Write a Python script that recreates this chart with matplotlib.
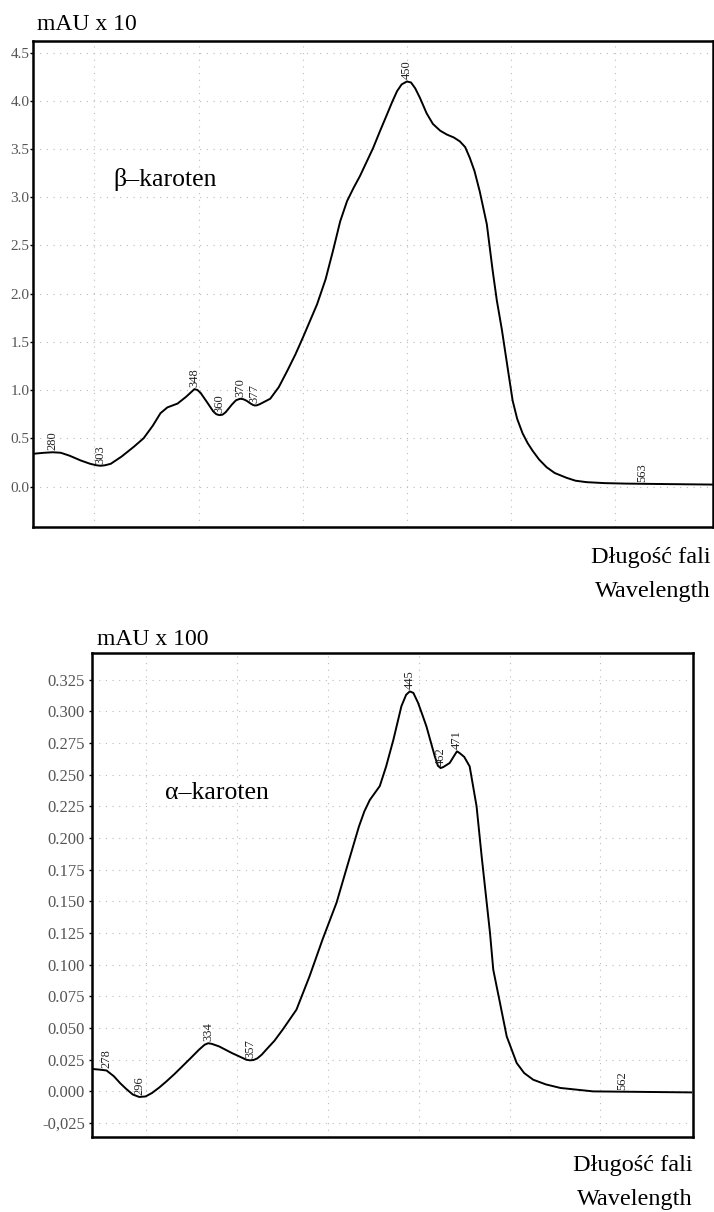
import numpy as np
import matplotlib
matplotlib.use("Agg")
import matplotlib.pyplot as plt

plt.rcParams['font.family'] = ['Liberation Serif', 'DejaVu Serif']

# beta-carotene spectrum (wavelength nm, absorbance mAU x 10)
beta_nm = [270.9, 276, 280, 283.8, 288, 293.4, 298, 301, 303, 305, 307.8, 313, 318.8,
           323.6, 328, 331.7, 335, 339.9, 344, 346.5, 348, 349.5, 351, 354.2, 357,
           358.5, 360, 361.5, 363, 366, 368, 370, 371.5, 373, 375, 376.2, 377, 378,
           379.5, 384.4, 388.5, 392.6, 396.5, 400.2, 406.9, 411, 414.6, 418, 421.3,
           424.5, 427.5, 433.8, 437, 440.5, 443, 445.3, 447.5, 450, 452, 454, 456.3,
           459.5, 462.5, 466, 469.2, 472.5, 475.4, 478, 480.2, 482.5, 485, 488.4,
           491.2, 493.2, 495.6, 498.4, 500.8, 503, 505.6, 508, 510.4, 513.5, 517.1,
           521, 526.7, 531, 536.3, 545, 555.4, 575, 597]
beta_val = [0.34, 0.35, 0.355, 0.35, 0.32, 0.27, 0.235, 0.22, 0.215, 0.22, 0.235, 0.31,
            0.41, 0.50, 0.63, 0.76, 0.82, 0.86, 0.93, 0.98, 1.01, 1.0, 0.97, 0.87,
            0.78, 0.75, 0.74, 0.745, 0.77, 0.85, 0.895, 0.91, 0.905, 0.89, 0.86,
            0.845, 0.84, 0.842, 0.855, 0.91, 1.03, 1.20, 1.37, 1.55, 1.89, 2.15,
            2.45, 2.75, 2.96, 3.10, 3.22, 3.51, 3.68, 3.86, 3.99, 4.10, 4.17, 4.20,
            4.19, 4.13, 4.03, 3.87, 3.76, 3.69, 3.65, 3.62, 3.58, 3.52, 3.41, 3.27,
            3.06, 2.72, 2.24, 1.93, 1.63, 1.23, 0.89, 0.70, 0.55, 0.45, 0.37, 0.28,
            0.20, 0.14, 0.09, 0.06, 0.045, 0.035, 0.03, 0.025, 0.02]
beta_peaks = [280, 303, 348, 360, 370, 377, 450, 563]
beta_yticks = [0.0, 0.5, 1.0, 1.5, 2.0, 2.5, 3.0, 3.5, 4.0, 4.5]
beta_ylabels = ["0.0", "0.5", "1.0", "1.5", "2.0", "2.5", "3.0", "3.5", "4.0", "4.5"]

# alpha-carotene spectrum (wavelength nm, absorbance mAU x 100)
alpha_nm = [270, 274, 278, 282, 285.5, 288.8, 292.5, 296, 299.5, 303, 307, 311, 315.5,
            319.7, 324.5, 329, 332, 334, 336, 340, 347, 352, 355, 357, 359, 361, 363.5,
            366, 370.5, 375, 382.6, 389.8, 397, 404.7, 410, 417, 420, 423, 428.5, 432,
            436, 440.4, 443, 445, 447, 449.6, 452, 454.2, 458.8, 460.5, 462, 463.5,
            467, 469.5, 471, 472.5, 475, 478, 481.8, 484.6, 489.2, 491, 494.7, 498.4,
            503.9, 508, 513, 520, 528, 546, 600]
alpha_val = [0.0177, 0.0172, 0.0165, 0.012, 0.0065, 0.002, -0.0025, -0.0044, -0.004,
             -0.0013, 0.003, 0.0079, 0.0138, 0.0197, 0.0265, 0.033, 0.0368, 0.038,
             0.0375, 0.0355, 0.0303, 0.027, 0.025, 0.0245, 0.0248, 0.026, 0.029, 0.033,
             0.040, 0.0487, 0.0645, 0.0908, 0.120, 0.149, 0.175, 0.209, 0.221, 0.230,
             0.241, 0.2565, 0.2776, 0.304, 0.313, 0.3157, 0.3145, 0.3066, 0.297, 0.288,
             0.2644, 0.257, 0.2552, 0.256, 0.2592, 0.265, 0.2684, 0.267, 0.264, 0.2565,
             0.225, 0.1855, 0.125, 0.096, 0.0698, 0.0434, 0.0224, 0.0145, 0.0092,
             0.0055, 0.0027, 0.0, -0.0008]
alpha_peaks = [278, 296, 334, 357, 445, 462, 471, 562]
alpha_yticks = [-0.025, 0.0, 0.025, 0.05, 0.075, 0.1, 0.125, 0.15, 0.175, 0.2,
                0.225, 0.25, 0.275, 0.3, 0.325]
alpha_ylabels = ["-0,025", "0.000", "0.025", "0.050", "0.075", "0.100", "0.125", "0.150",
                 "0.175", "0.200", "0.225", "0.250", "0.275", "0.300", "0.325"]

W, H = 714, 1212
fig = plt.figure(figsize=(W / 100, H / 100), dpi=100)


def px_axes(l, t, r, b):
    return fig.add_axes([l / W, 1 - b / H, (r - l) / W, (b - t) / H])


def spectrum(ax, nm, val, peaks, xlim, ylim, yticks, ylabels, tick_fs, pad):
    ax.set_xlim(*xlim)
    ax.set_ylim(*ylim)
    for x in range(300, 600, 50):
        ax.axvline(x, color='#bbbbbb', lw=0.8, ls=(0, (1, 5)), zorder=0)
    for y in yticks:
        ax.axhline(y, color='#bbbbbb', lw=0.8, ls=(0, (1, 5)), zorder=0)
    ax.plot(nm, val, color='black', lw=1.4, solid_joinstyle='round')
    for p in peaks:
        yv = np.interp(p, nm, val)
        ax.annotate(str(p), (p, yv), xytext=(0, 1.5), textcoords='offset points',
                    rotation=90, ha='center', va='bottom', fontsize=9,
                    color='#222222')
    ax.set_xticks([])
    ax.set_yticks(yticks)
    ax.set_yticklabels(ylabels)
    ax.tick_params(axis='y', direction='out', length=2, width=1, pad=pad,
                   labelsize=tick_fs, labelcolor='#555555')
    for s in ax.spines.values():
        s.set_linewidth(1.8)


ax1 = px_axes(33, 41, 713, 527)
spectrum(ax1, beta_nm, beta_val, beta_peaks, (270.5, 597), (-0.42, 4.62),
         beta_yticks, beta_ylabels, 11, 0.5)
ax1.text(0.118, 0.715, "β–karoten", transform=ax1.transAxes, fontsize=18.5,
         va='center', ha='left')

ax2 = px_axes(92, 653, 693, 1137)
spectrum(ax2, alpha_nm, alpha_val, alpha_peaks, (270, 601), (-0.036, 0.346),
         alpha_yticks, alpha_ylabels, 12, 3)
ax2.text(0.122, 0.71, "α–karoten", transform=ax2.transAxes, fontsize=18.5,
         va='center', ha='left')

fig.text(37 / W, 1 - 24 / H, "mAU x 10", fontsize=17, va='center', ha='left')
fig.text(97 / W, 1 - 640 / H, "mAU x 100", fontsize=17, va='center', ha='left')
fig.text(711 / W, 1 - 557 / H, "Długość fali", fontsize=17.5, va='center', ha='right')
fig.text(711 / W, 1 - 592 / H, "Wavelength", fontsize=17.5, va='center', ha='right')
fig.text(693 / W, 1 - 1165 / H, "Długość fali", fontsize=17.5, va='center', ha='right')
fig.text(693 / W, 1 - 1200 / H, "Wavelength", fontsize=17.5, va='center', ha='right')

fig.savefig("out.png", dpi=100)
